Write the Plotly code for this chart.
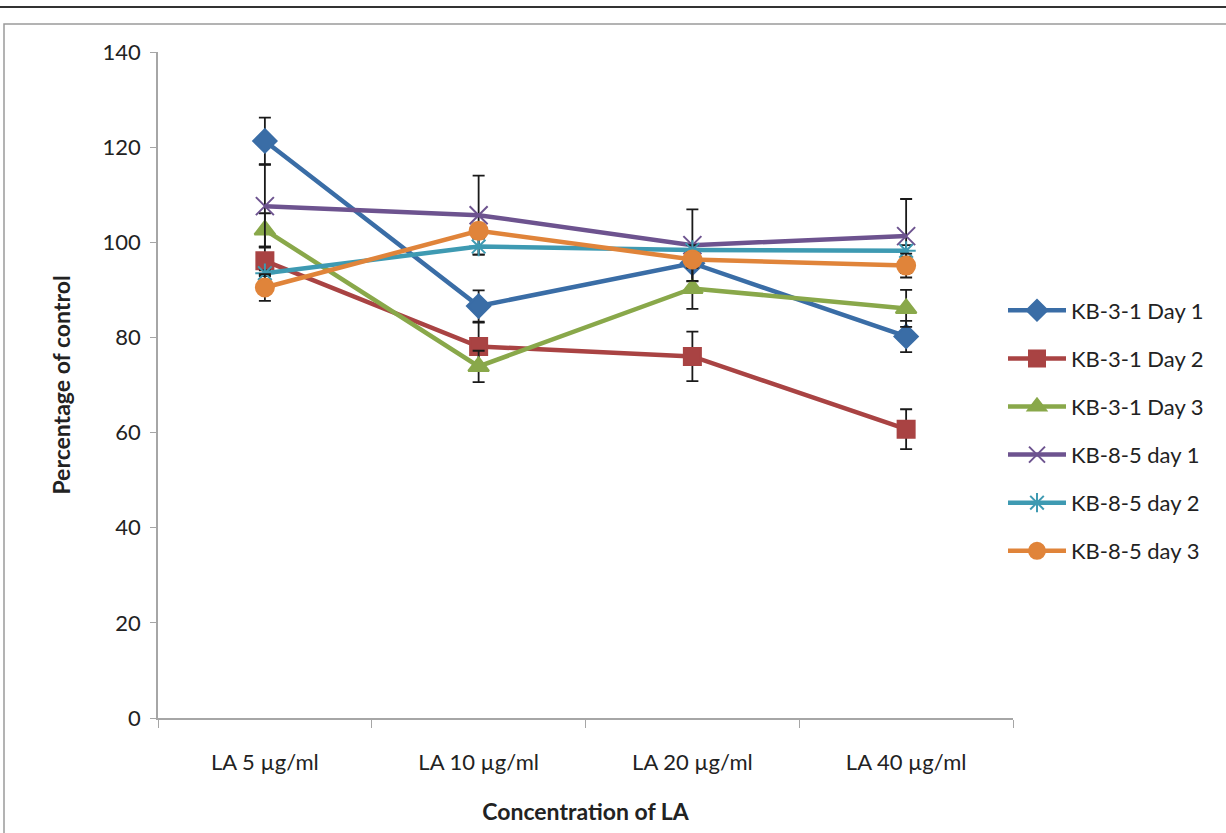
import plotly.graph_objects as go

categories = ["LA 5 µg/ml", "LA 10 µg/ml", "LA 20 µg/ml", "LA 40 µg/ml"]

series_names = ["KB-3-1 Day 1", "KB-3-1 Day 2", "KB-3-1 Day 3",
                "KB-8-5 day 1", "KB-8-5 day 2", "KB-8-5 day 3"]

kb31_day1 = [121.3, 86.6, 95.6, 80.2]
kb31_day2 = [96.1, 78.1, 76.0, 60.7]
kb31_day3 = [102.6, 73.9, 90.3, 86.1]
kb85_day1 = [107.6, 105.7, 99.4, 101.3]
kb85_day2 = [93.5, 99.1, 98.4, 98.2]
kb85_day3 = [90.5, 102.4, 96.4, 95.1]

err_kb31_day1 = [4.9, 3.3, 3.8, 3.3]
err_kb31_day2 = [3.0, 5.0, 5.2, 4.2]
err_kb31_day3 = [3.5, 3.3, 4.3, 3.9]
err_kb85_day1 = [8.7, 8.3, 7.5, 7.8]
err_kb85_day2 = [0.6, 1.7, 1.0, 1.2]
err_kb85_day3 = [2.8, 1.5, 1.5, 2.5]

values = [kb31_day1, kb31_day2, kb31_day3, kb85_day1, kb85_day2, kb85_day3]
errors = [err_kb31_day1, err_kb31_day2, err_kb31_day3, err_kb85_day1, err_kb85_day2, err_kb85_day3]
colors = ["#3a6da6", "#a94343", "#89a84a", "#6d538f", "#3e9ab2", "#e0843a"]
symbols = ["diamond", "square", "triangle-up", "x-thin-open", "asterisk-open", "circle"]
sizes = [18, 17, 18, 18, 16, 18]

FONT = "Lato, 'Open Sans', sans-serif"

fig = go.Figure()
for i, name in enumerate(series_names):
    fig.add_trace(go.Scatter(
        x=categories, y=values[i], name=name, mode="lines+markers",
        line=dict(color=colors[i], width=4.5),
        marker=dict(symbol=symbols[i], size=sizes[i], color=colors[i],
                    line=dict(color=colors[i], width=2)),
        error_y=dict(type="data", array=errors[i], visible=True,
                     color="#1a1a1a", thickness=1.8, width=6),
        legendgroup=name,
    ))

W, H = 1226, 833
L, R, T, B = 158, 1013, 52, 718
pw, ph = R - L, B - T

def px(x):
    return (x - L) / pw

def py(y):
    return (B - y) / ph

fig.update_layout(
    width=W, height=H,
    margin=dict(l=L, r=W - R, t=T, b=H - B),
    paper_bgcolor="white", plot_bgcolor="white",
    font=dict(family=FONT, size=22, color="#222222"),
    showlegend=True,
    legend=dict(x=px(1003), y=py(431), xanchor="left", yanchor="middle",
                font=dict(size=22, family=FONT), itemwidth=58,
                tracegroupgap=16.5, bgcolor="rgba(0,0,0,0)"),
    xaxis=dict(
        range=[-0.5, 3.5], showgrid=False, zeroline=False,
        showline=True, linecolor="#a6a6a6", linewidth=1.5,
        ticks="outside", tickson="boundaries", ticklen=8, tickcolor="#a6a6a6",
        ticklabelstandoff=24, tickfont=dict(size=22),
        title=dict(text="<b>Concentration of LA</b>", font=dict(size=23, family=FONT), standoff=30),
    ),
    yaxis=dict(
        range=[0, 140], dtick=20, showgrid=False, zeroline=False,
        showline=True, linecolor="#a6a6a6", linewidth=1.5,
        ticks="outside", ticklen=6, tickcolor="#a6a6a6",
        ticklabelstandoff=5, tickfont=dict(size=22),
        title=dict(text="<b>Percentage of control</b>", font=dict(size=23, family=FONT), standoff=26),
    ),
    shapes=[
        dict(type="line", xref="paper", yref="paper",
             x0=px(-5), x1=px(W + 5), y0=py(7), y1=py(7),
             line=dict(color="#333333", width=2)),
        dict(type="rect", xref="paper", yref="paper",
             x0=px(4), x1=px(W + 20), y0=py(H + 20), y1=py(24),
             line=dict(color="#9a9a9a", width=1.5)),
    ],
)

fig.write_html("out.html", config={"displayModeBar": False},
               post_script="document.body.style.margin='0';document.body.style.padding='0';")
